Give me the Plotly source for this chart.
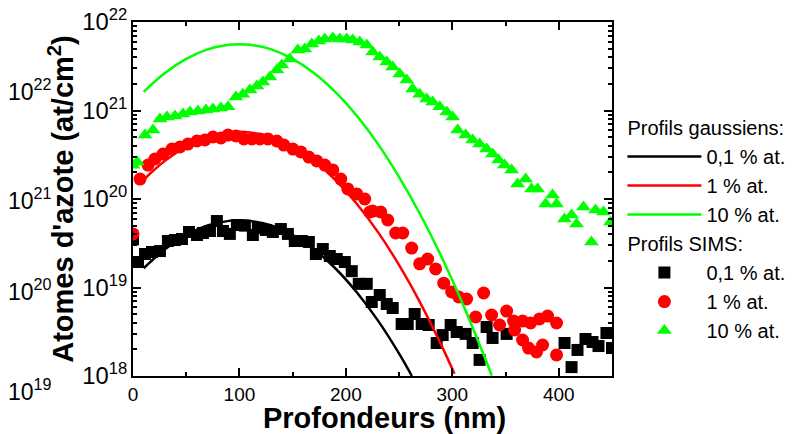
import plotly.graph_objects as go

# ---------------- data ----------------
# Gaussian profiles (lines)
gauss_x_01 = [10, 30, 50, 70, 90, 100, 110, 130, 150, 170, 190, 210, 230, 250, 262]
gauss_y_01 = [1.65e19, 2.70e19, 3.91e19, 5.01e19, 5.66e19, 5.75e19, 5.66e19, 5.01e19,
              3.91e19, 2.70e19, 1.65e19, 8.89e18, 4.25e18, 1.79e18, 1.0e18]

gauss_x_1 = [10, 30, 50, 70, 90, 100, 110, 130, 150, 170, 190, 210, 230, 250, 270, 290, 302]
gauss_y_1 = [1.65e20, 2.70e20, 3.91e20, 5.01e20, 5.66e20, 5.75e20, 5.66e20, 5.01e20,
             3.91e20, 2.70e20, 1.65e20, 8.89e19, 4.25e19, 1.79e19, 6.67e18, 2.19e18, 1.06e18]

gauss_x_10 = [10, 30, 50, 70, 90, 100, 110, 130, 150, 170, 190, 210, 230, 250, 270, 290, 310, 330, 337]
gauss_y_10 = [1.62e21, 2.65e21, 3.83e21, 4.90e21, 5.53e21, 5.62e21, 5.53e21, 4.90e21,
              3.83e21, 2.65e21, 1.62e21, 8.77e20, 4.20e20, 1.77e20, 6.64e19, 2.20e19,
              6.44e18, 1.67e18, 1.01e18]

# SIMS profiles (markers)
sims_x_01 = [0, 4.7, 11.3, 17.8, 25.3, 32.8, 39.4, 46.0, 52.6, 60.1, 65.7, 72.3, 78.8, 84.5,
             91.0, 97.6, 105.1, 112.6, 117.3, 124.8, 131.4, 138.9, 145.5, 152.0, 158.6,
             165.2, 171.8, 178.3, 184.9, 191.4, 199.0, 205.5, 212.1, 219.6, 224.3, 231.8,
             238.4, 244.0, 252.4, 258.1, 264.6, 271.2, 277.8, 285.3, 290.9, 298.4, 304.1,
             312.5, 319.1, 325.6, 332.2, 337.8, 351.0, 405.4, 412.0, 417.6, 425.1, 431.7,
             437.3, 444.8, 450.0]
sims_y_01 = [3.5e19, 1.94e19, 2.39e19, 2.52e19, 2.58e19, 3.35e19, 3.44e19, 3.53e19, 4.24e19,
             3.92e19, 4.13e19, 4.35e19, 5.64e19, 4.35e19, 4.03e19, 5.08e19, 5.0e19, 3.92e19,
             4.70e19, 4.47e19, 4.24e19, 4.58e19, 4.03e19, 3.35e19, 3.35e19, 3.27e19,
             2.39e19, 2.72e19, 2.27e19, 2.10e19, 1.94e19, 1.53e19, 1.10e19, 1.10e19,
             6.86e18, 8.22e18, 6.51e18, 5.87e18, 3.87e18, 3.87e18, 5.02e18, 3.87e18,
             3.77e18, 2.36e18, 2.90e18, 3.77e18, 3.14e18, 2.99e18, 2.36e18, 1.52e18,
             3.58e18, 2.69e18, 2.99e18, 2.36e18, 1.26e18, 1.97e18, 2.62e18, 2.42e18,
             2.18e18, 3.06e18, 2.07e18]

sims_x_1 = [0, 6.6, 14.1, 20.6, 28.2, 36.6, 44.1, 51.6, 60.1, 67.6, 75.1, 82.6, 89.2, 96.7,
            104.2, 111.7, 119.2, 126.7, 135.1, 141.7, 150.2, 157.7, 165.2, 172.7, 180.2,
            187.7, 195.2, 201.8, 210.2, 217.7, 222.4, 225.2, 232.7, 239.3, 246.8, 253.4,
            261.8, 269.3, 276.8, 284.3, 291.9, 299.4, 305.9, 313.4, 321.9, 329.4, 336.9,
            344.4, 351.0, 357.5, 358.5, 366.0, 366.0, 371.6, 373.5, 379.1, 381.9, 384.8,
            389.5, 397.9, 397.9]
sims_y_1 = [4.03e19, 1.68e20, 2.42e20, 2.83e20, 3.22e20, 3.67e20, 3.87e20, 4.18e20, 4.52e20,
            4.65e20, 5.02e20, 4.89e20, 5.28e20, 5.15e20, 4.77e20, 4.77e20, 4.77e20, 4.77e20,
            4.52e20, 4.07e20, 3.67e20, 3.40e20, 2.98e20, 2.69e20, 2.42e20, 2.13e20,
            1.68e20, 1.30e20, 1.14e20, 1.0e20, 7.13e19, 7.31e19, 7.13e19, 5.79e19, 4.13e19,
            4.13e19, 2.79e19, 1.85e19, 2.10e19, 1.62e19, 1.12e19, 8.89e18, 7.82e18,
            7.41e18, 4.64e18, 8.67e18, 4.89e18, 3.77e18, 5.42e18, 4.18e18, 3.31e18,
            4.18e18, 2.55e18, 2.07e18, 3.97e18, 1.87e18, 4.41e18, 2.24e18, 4.76e18,
            3.97e18, 1.73e18]

sims_x_10 = [0, 4.0, 11.3, 18.8, 25.3, 31.9, 39.4, 46.9, 53.5, 61.0, 68.5, 75.1, 82.6, 89.2,
             96.7, 103.2, 109.8, 116.4, 122.0, 128.6, 135.1, 139.8, 147.3, 154.8, 161.4,
             168.0, 174.5, 180.2, 187.7, 194.3, 200.8, 206.5, 213.0, 219.6, 225.2, 231.8,
             238.4, 244.0, 250.6, 257.1, 262.8, 269.3, 275.9, 281.5, 288.1, 294.7, 300.3,
             305.0, 312.5, 319.1, 325.6, 332.2, 337.8, 343.5, 349.1, 355.7, 361.3, 368.8,
             374.4, 380.1, 387.6, 394.1, 397.9, 405.4, 412.0, 416.7, 423.2, 430.7, 434.5,
             442.0, 448.6]
sims_y_10 = [2.4e20, 2.62e20, 5.28e20, 6.03e20, 8.02e20, 8.45e20, 8.67e20, 9.12e20, 9.62e20,
             9.87e20, 1.01e21, 1.04e21, 1.07e21, 1.10e21, 1.42e21, 1.53e21, 1.71e21,
             1.89e21, 2.10e21, 2.39e21, 2.87e21, 3.27e21, 3.82e21, 4.83e21, 4.95e21,
             5.64e21, 6.10e21, 6.43e21, 6.59e21, 6.43e21, 6.43e21, 6.27e21, 5.94e21,
             5.50e21, 4.58e21, 4.03e21, 3.53e21, 3.10e21, 2.58e21, 2.21e21, 1.75e21,
             1.53e21, 1.35e21, 1.25e21, 1.10e21, 9.62e20, 8.45e20, 6.03e20, 5.28e20,
             4.65e20, 4.18e20, 3.67e20, 3.22e20, 2.76e20, 2.42e20, 2.13e20, 1.48e20,
             1.68e20, 1.30e20, 1.30e20, 8.79e19, 1.11e20, 8.79e19, 5.94e19, 6.59e19,
             5.22e19, 8.13e19, 3.27e19, 7.52e19, 7.13e19, 5.50e19]

series_labels = ["0,1 % at.", "1 % at.", "10 % at."]
group_titles = ["Profils gaussiens:", "Profils SIMS:"]
colors = ["#000000", "#FF0000", "#00FF00"]
symbols = ["square", "circle", "triangle-up"]

# stray outer tick labels (left of the axis) and their approximate levels
ghost_labels = ["10<sup>22</sup>", "10<sup>21</sup>", "10<sup>20</sup>", "10<sup>19</sup>"]
ghost_pos = [0.807, 0.500, 0.243, -0.040]

FONT = "Liberation Sans, Arial, sans-serif"

fig = go.Figure()

sims = [(sims_x_01, sims_y_01), (sims_x_1, sims_y_1), (sims_x_10, sims_y_10)]
gauss = [(gauss_x_01, gauss_y_01), (gauss_x_1, gauss_y_1), (gauss_x_10, gauss_y_10)]

for i, (sx, sy) in enumerate(sims):
    fig.add_trace(go.Scatter(
        x=sx, y=sy, mode="markers", name=series_labels[i],
        legendgroup="sims", legendgrouptitle_text=group_titles[1],
        marker=dict(symbol=symbols[i], color=colors[i], size=13 if i else 12,
                    line=dict(width=0)),
        legendrank=10 + i,
    ))

for i, (gx, gy) in enumerate(gauss):
    fig.add_trace(go.Scatter(
        x=gx, y=gy, mode="lines", name=series_labels[i], line_shape="spline",
        legendgroup="gauss", legendgrouptitle_text=group_titles[0],
        line=dict(color=colors[i], width=2.5),
        legendrank=i,
    ))

for lab, pos in zip(ghost_labels, ghost_pos):
    fig.add_annotation(text=lab, xref="paper", yref="paper", x=-0.215, y=pos,
                       xanchor="center", yanchor="middle", showarrow=False,
                       font=dict(family=FONT, size=23, color="black"))

axis_common = dict(showline=True, linecolor="black", linewidth=2, mirror="ticks",
                   ticks="inside", tickcolor="black", tickwidth=1.5, ticklen=8,
                   showgrid=False, zeroline=False, automargin=False,
                   ticklabeloverflow="allow",
                   tickfont=dict(family=FONT, size=19, color="black"))

fig.update_xaxes(range=[0, 450], dtick=100,
                 minor=dict(dtick=50, ticks="inside", ticklen=4, tickcolor="black",
                            tickwidth=1.5, showgrid=False),
                 title=dict(text="&nbsp;&nbsp;&nbsp;<b>Profondeurs (nm)</b>",
                            font=dict(family=FONT, size=29, color="black"), standoff=11),
                 **axis_common)
fig.update_yaxes(type="log", range=[18, 22], dtick=1, exponentformat="power",
                 minor=dict(dtick="D1", ticks="inside", ticklen=4, tickcolor="black",
                            tickwidth=1.5, showgrid=False),
                 title=dict(text="<b>Atomes d'azote (at/cm<sup>2</sup>)</b>",
                            font=dict(family=FONT, size=29, color="black"), standoff=0),
                 **axis_common)

fig.update_layout(
    width=800, height=426,
    margin=dict(l=125, r=196, t=14, b=58, autoexpand=False),
    plot_bgcolor="white", paper_bgcolor="white",
    font=dict(family=FONT, color="black"),
    legend=dict(xref="container", yref="container", x=0.768, y=0.765,
                xanchor="left", yanchor="top", traceorder="grouped",
                font=dict(family=FONT, size=20, color="black"),
                grouptitlefont=dict(family=FONT, size=20, color="black"),
                bgcolor="rgba(0,0,0,0)", itemwidth=74, tracegroupgap=0,
                maxheight=400),
)

fig.write_html("out.html")
